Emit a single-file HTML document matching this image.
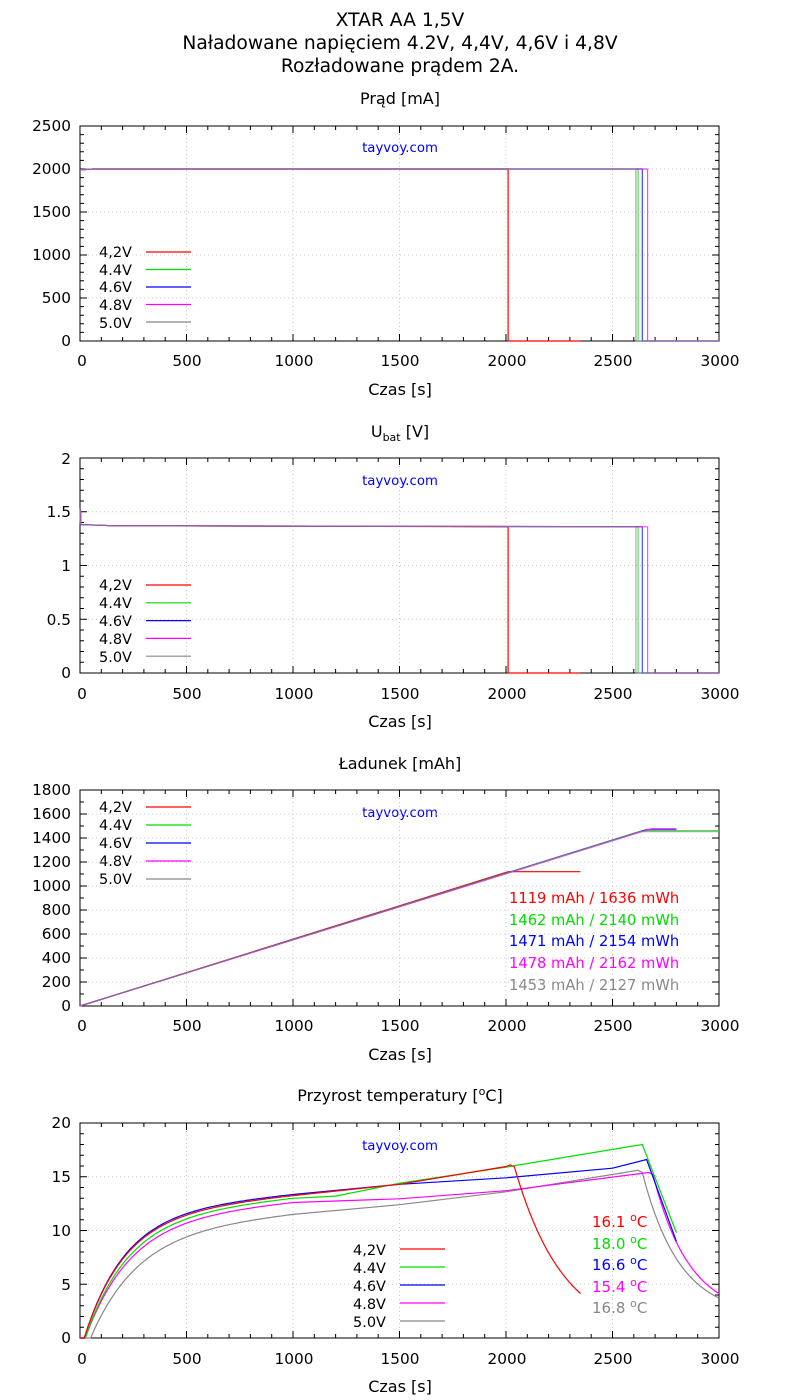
<!DOCTYPE html>
<html><head><meta charset="utf-8"><style>
html,body{margin:0;padding:0;background:#fff}
svg{display:block;font-family:"DejaVu Sans","Liberation Sans",sans-serif}
</style></head><body>
<svg id="s" width="800" height="1400" xmlns="http://www.w3.org/2000/svg">
<rect width="800" height="1400" fill="#fff"/>
<g font-size="18.7" text-anchor="middle" fill="#000">
<text x="400" y="26">XTAR AA 1,5V</text>
<text x="400" y="49">Naładowane napięciem 4.2V, 4,4V, 4,6V i 4,8V</text>
<text x="400" y="72">Rozładowane prądem 2A.</text>
</g>
<g font-size="16" text-anchor="middle">
<text x="400" y="104">Prąd [mA]</text>
<text x="400" y="437">U<tspan font-size="11" dy="4">bat</tspan><tspan dy="-4"> [V]</tspan></text>
<text x="400" y="769">Ładunek [mAh]</text>
<text x="400" y="1101">Przyrost temperatury [<tspan font-size="11" dy="-6">o</tspan><tspan dy="6">C]</tspan></text>
<text x="400" y="395">Czas [s]</text>
<text x="400" y="727">Czas [s]</text>
<text x="400" y="1060">Czas [s]</text>
<text x="400" y="1392">Czas [s]</text>
</g>
<g font-size="13.3" fill="#0000ff" text-anchor="middle">
<text x="400" y="152">tayvoy.com</text>
<text x="400" y="485">tayvoy.com</text>
<text x="400" y="817">tayvoy.com</text>
<text x="400" y="1150">tayvoy.com</text>
</g>
<g font-size="15.3" fill="#000">
<g text-anchor="middle">
<text x="82" y="366">0</text><text x="187" y="366">500</text><text x="294" y="366">1000</text><text x="400" y="366">1500</text><text x="507" y="366">2000</text><text x="613" y="366">2500</text><text x="720" y="366">3000</text>
<text x="82" y="699">0</text><text x="187" y="699">500</text><text x="294" y="699">1000</text><text x="400" y="699">1500</text><text x="507" y="699">2000</text><text x="613" y="699">2500</text><text x="720" y="699">3000</text>
<text x="82" y="1031">0</text><text x="187" y="1031">500</text><text x="294" y="1031">1000</text><text x="400" y="1031">1500</text><text x="507" y="1031">2000</text><text x="613" y="1031">2500</text><text x="720" y="1031">3000</text>
<text x="82" y="1364">0</text><text x="187" y="1364">500</text><text x="294" y="1364">1000</text><text x="400" y="1364">1500</text><text x="507" y="1364">2000</text><text x="613" y="1364">2500</text><text x="720" y="1364">3000</text>
</g>
<g text-anchor="end">
<text x="71" y="346">0</text><text x="71" y="303">500</text><text x="71" y="260">1000</text><text x="71" y="217">1500</text><text x="71" y="174">2000</text><text x="71" y="131">2500</text>
<text x="71" y="678">0</text><text x="71" y="625">0.5</text><text x="71" y="571">1</text><text x="71" y="517">1.5</text><text x="71" y="464">2</text>
<text x="71" y="1011">0</text><text x="71" y="987">200</text><text x="71" y="963">400</text><text x="71" y="939">600</text><text x="71" y="915">800</text><text x="71" y="891">1000</text><text x="71" y="867">1200</text><text x="71" y="843">1400</text><text x="71" y="819">1600</text><text x="71" y="795">1800</text>
<text x="71" y="1343">0</text><text x="71" y="1290">5</text><text x="71" y="1236">10</text><text x="71" y="1182">15</text><text x="71" y="1128">20</text>
</g>
</g>
<g font-size="14.5" fill="#000">
<text x="99" y="257">4,2V</text><text x="99" y="275">4.4V</text><text x="99" y="292">4.6V</text><text x="99" y="310">4.8V</text><text x="99" y="328">5.0V</text>
<text x="99" y="590">4,2V</text><text x="99" y="608">4.4V</text><text x="99" y="626">4.6V</text><text x="99" y="644">4.8V</text><text x="99" y="662">5.0V</text>
<text x="99" y="812">4,2V</text><text x="99" y="830">4.4V</text><text x="99" y="848">4.6V</text><text x="99" y="866">4.8V</text><text x="99" y="884">5.0V</text>
<text x="353" y="1255">4,2V</text><text x="353" y="1273">4.4V</text><text x="353" y="1291">4.6V</text><text x="353" y="1309">4.8V</text><text x="353" y="1327">5.0V</text>
</g>
<g font-size="14.7">
<text x="509" y="903" fill="#ff0000">1119 mAh / 1636 mWh</text>
<text x="509" y="925" fill="#00dd00">1462 mAh / 2140 mWh</text>
<text x="509" y="946" fill="#0000ff">1471 mAh / 2154 mWh</text>
<text x="509" y="968" fill="#ff00ff">1478 mAh / 2162 mWh</text>
<text x="509" y="990" fill="#888888">1453 mAh / 2127 mWh</text>
</g>
<g font-size="15">
<text x="592" y="1227" fill="#ff0000">16.1 <tspan font-size="11" dy="-6">o</tspan><tspan dy="6">C</tspan></text>
<text x="592" y="1249" fill="#00dd00">18.0 <tspan font-size="11" dy="-6">o</tspan><tspan dy="6">C</tspan></text>
<text x="592" y="1270" fill="#0000ff">16.6 <tspan font-size="11" dy="-6">o</tspan><tspan dy="6">C</tspan></text>
<text x="592" y="1292" fill="#ff00ff">15.4 <tspan font-size="11" dy="-6">o</tspan><tspan dy="6">C</tspan></text>
<text x="592" y="1313" fill="#888888">16.8 <tspan font-size="11" dy="-6">o</tspan><tspan dy="6">C</tspan></text>
</g>
<g id="dyn"></g>
</svg>
<script>
var NS="http://www.w3.org/2000/svg",G=document.getElementById("dyn");
function el(n,a){var e=document.createElementNS(NS,n);for(var k in a)e.setAttribute(k,a[k]);G.appendChild(e);return e;}
var X0=80,X1=719;function X(t){return X0+t*(X1-X0)/3000;}
var C=["#ff0000","#00dd00","#0000ff","#ff00ff","#888888"];
function panel(top,bot,ymax,major,minor){
  var d="";
  function Y(v){return bot-v*(bot-top)/ymax;}
  for(var t=500;t<3000;t+=500)d+="M"+X(t)+" "+top+"V"+bot;
  for(var v=major;v<ymax-1e-9;v+=major)d+="M"+X0+" "+Y(v)+"H"+X1;
  el("path",{d:d,stroke:"#c8c8c8","stroke-width":1,"stroke-dasharray":"1 3",fill:"none"});
  var k="";
  for(var t=0;t<=3000;t+=100){var L=(t%500==0)?7:4;k+="M"+X(t)+" "+bot+"v"+(-L)+"M"+X(t)+" "+top+"v"+L;}
  for(var v=0;v<=ymax+1e-9;v+=minor){var L=(Math.abs(v/major-Math.round(v/major))<1e-6)?7:4;k+="M"+X0+" "+Y(v)+"h"+L+"M"+X1+" "+Y(v)+"h"+(-L);}
  el("path",{d:k,stroke:"#000","stroke-width":1,fill:"none"});
  el("rect",{x:X0,y:top,width:X1-X0,height:bot-top,fill:"none",stroke:"#000","stroke-width":1});
  return Y;
}
function pl(pts,col,Y,op){var d="";pts.forEach(function(p,i){d+=(i?"L":"M")+X(p[0]).toFixed(1)+" "+Y(p[1]).toFixed(1);});el("path",{d:d,stroke:col,"stroke-width":1.2,fill:"none","stroke-opacity":op||1});}
function leg(x,y0,step){for(var i=0;i<5;i++)el("path",{d:"M"+x+" "+(y0+i*step)+"h45",stroke:C[i],"stroke-width":1.2});}
var drops=[2010,2620,2640,2665,2610];
// panel 1
var Y1=panel(126,341,2500,500,100);
for(var i=0;i<5;i++){var d=drops[i];pl([[0,1990],[60,2000],[d,2000],[d,0],[i==0?2350:3000,0]],C[i],Y1,i==0?1:0.75);}
leg(146,252,17.5);
// panel 2
var Y2=panel(458,673,2,0.5,0.1);
for(var i=0;i<5;i++){var d=drops[i];pl([[0,1.38],[2,1.53],[4,1.38],[150,1.37],[d,1.36],[d,0],[i==0?2350:3000,0]],C[i],Y2,i==0?1:0.7);}
leg(146,585,17.8);
// panel 3
var Y3=panel(790,1006,1800,200,100);
var fin=[1119,1462,1471,1478,1453],ends=[2350,3000,2800,2800,3000];
for(var i=0;i<5;i++){var d=drops[i]+20;if(i==0)d=2010;pl([[0,0],[d,fin[i]],[ends[i],fin[i]]],C[i],Y3,i==0?1:0.7);}
leg(146,807,18);
// panel 4
var Y4=panel(1123,1338,20,5,1);
var S=[
 {t0:20,A:11.4,tau:190,pts:[[1000,13.25],[1500,14.3],[2000,15.95],[2020,16.1]],dec:{inf:0,td:230,end:2350}},
 {t0:25,A:11.2,tau:200,pts:[[1000,13.0],[1200,13.2],[1500,14.4],[2000,15.9],[2640,18.0]],lin:[2800,9.8]},
 {t0:20,A:11.6,tau:190,pts:[[1000,13.35],[1500,14.3],[2000,14.9],[2500,15.8],[2660,16.6]],lin:[2800,9.0]},
 {t0:25,A:11.0,tau:210,pts:[[1000,12.6],[1500,12.95],[2000,13.7],[2670,15.4]],dec:{inf:2,td:170,end:3000}},
 {t0:50,A:9.8,tau:220,pts:[[1000,11.5],[1500,12.4],[2000,13.6],[2620,15.6]],dec:{inf:2,td:175,end:3000}}];
for(var i=4;i>=0;i--){var s=S[i],p=[];
 var k=(s.pts[0][1]-s.A*(1-Math.exp(-(1000-s.t0)/s.tau)))/(1000-s.t0);
 p.push([0,0]);
 for(var t=s.t0;t<=1000;t+=10)p.push([t,s.A*(1-Math.exp(-(t-s.t0)/s.tau))+k*(t-s.t0)]);
 s.pts.forEach(function(q){p.push(q);});
 var last=s.pts[s.pts.length-1];
 if(s.lin)p.push(s.lin);
 else{for(var t=last[0]+5;t<=s.dec.end;t+=5){var dt=t-last[0];var v;if(dt<20)v=last[1]-dt*0.01;else v=s.dec.inf+(last[1]-0.2-s.dec.inf)*Math.exp(-(dt-20)/s.dec.td);p.push([t,v]);}}
 pl(p,C[i],Y4);}
leg(400,1249,18);
</script>
</body></html>
